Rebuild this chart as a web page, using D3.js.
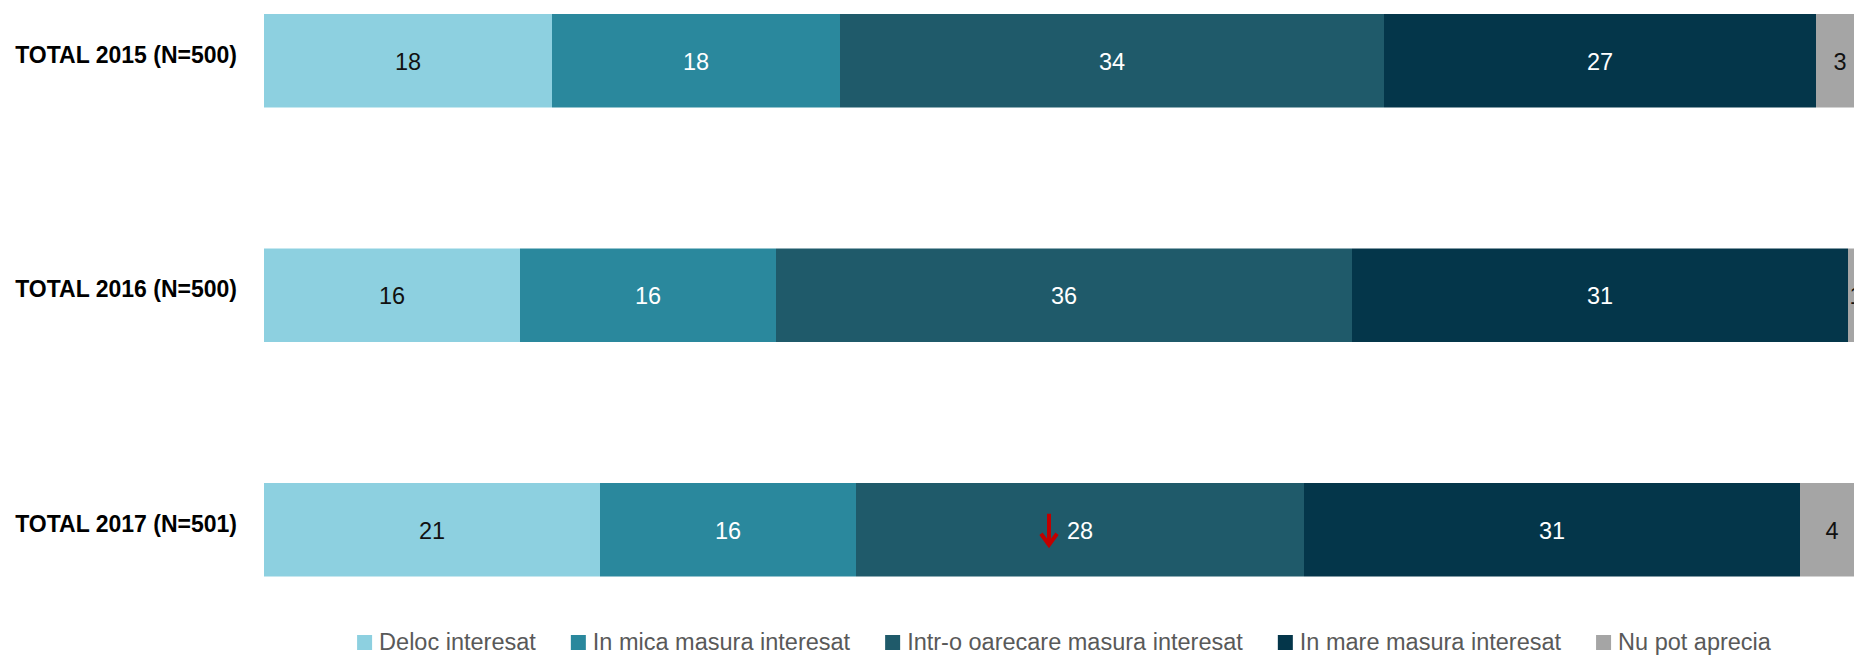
<!DOCTYPE html>
<html>
<head>
<meta charset="utf-8">
<script src="https://cdn.jsdelivr.net/npm/d3@7"></script>
<style>
  html, body { margin: 0; padding: 0; background: #ffffff; overflow: hidden; }
  svg { display: block; }
</style>
</head>
<body>
<svg id="chart" width="1854" height="655"></svg>
<script>
// ---- Data ----
const categories = ["TOTAL 2015 (N=500)", "TOTAL 2016 (N=500)", "TOTAL 2017 (N=501)"];
const seriesNames = ["Deloc interesat", "In mica masura interesat", "Intr-o oarecare masura interesat", "In mare masura interesat", "Nu pot aprecia"];
const delocInteresat   = [18, 16, 21];
const inMicaMasura     = [18, 16, 16];
const intrOOarecare    = [34, 36, 28];
const inMareMasura     = [27, 31, 31];
const nuPotAprecia     = [3, 1, 4];
const seriesColors = ["#8dd0e0", "#2a889d", "#1f5a6a", "#04364a", "#a5a5a5"];
const labelColors  = ["#111111", "#ffffff", "#ffffff", "#ffffff", "#111111"];
// significant decrease marker
const markers = [{ category: "TOTAL 2017 (N=501)", series: 2, direction: "down" }];

const seriesValues = [delocInteresat, inMicaMasura, intrOOarecare, inMareMasura, nuPotAprecia];

// ---- Layout ----
const svg = d3.select("#chart");
const FONT = "'Liberation Sans', Arial, sans-serif";

const x = d3.scaleLinear().domain([0, 100]).range([264, 1864]);
const y = d3.scaleBand().domain(categories).range([14, 576.5]).paddingInner(0.6013).paddingOuter(0);

const rows = categories.map((c, i) => {
  let cum = 0;
  return seriesValues.map((vals, s) => {
    const v = vals[i];
    const seg = { category: c, series: s, value: v, x0: cum, x1: cum + v };
    cum += v;
    return seg;
  });
});

const g = svg.append("g");

const rowG = g.selectAll("g.row").data(rows).join("g").attr("class", "row");

rowG.selectAll("rect").data(d => d).join("rect")
  .attr("x", d => x(d.x0))
  .attr("y", d => y(d.category))
  .attr("width", d => x(d.x1) - x(d.x0))
  .attr("height", y.bandwidth())
  .attr("fill", d => seriesColors[d.series]);

rowG.selectAll("text").data(d => d).join("text")
  .attr("x", d => (x(d.x0) + x(d.x1)) / 2)
  .attr("y", d => y(d.category) + y.bandwidth() / 2 + 1)
  .attr("dy", "0.35em")
  .attr("text-anchor", "middle")
  .attr("font-family", FONT)
  .attr("font-size", 23.5)
  .attr("fill", d => labelColors[d.series])
  .text(d => d.value);

// Category labels
g.selectAll("text.cat").data(categories).join("text")
  .attr("class", "cat")
  .attr("x", 237)
  .attr("y", d => y(d) + y.bandwidth() / 2 - 6)
  .attr("dy", "0.35em")
  .attr("text-anchor", "end")
  .attr("font-family", FONT)
  .attr("font-weight", "bold")
  .attr("font-size", 23)
  .attr("fill", "#000000")
  .text(d => d);

// Markers (arrows)
markers.forEach(m => {
  const i = categories.indexOf(m.category);
  const seg = rows[i][m.series];
  const cx = (x(seg.x0) + x(seg.x1)) / 2 - 31;
  const cy = y(m.category) + y.bandwidth() / 2;
  const top = cy - 16, bot = cy + 16;
  const ag = g.append("g").attr("stroke", "#c00000").attr("fill", "none").attr("stroke-width", 4);
  ag.append("line").attr("x1", cx).attr("x2", cx).attr("y1", top).attr("y2", bot - 2);
  ag.append("path").attr("d", `M${cx - 8},${bot - 12} L${cx},${bot - 1} L${cx + 8},${bot - 12}`)
    .attr("stroke-linejoin", "miter");
});

// Legend
const legend = svg.append("g");
const items = legend.selectAll("g").data(seriesNames).join("g");
items.append("rect")
  .attr("x", 0).attr("y", -15).attr("width", 15).attr("height", 15)
  .attr("fill", (d, i) => seriesColors[i]);
items.append("text")
  .attr("x", 22).attr("y", 0)
  .attr("font-family", FONT)
  .attr("font-size", 23.5)
  .attr("fill", "#595959")
  .text(d => d);
let pos = 0;
const offsets = [];
items.each(function() {
  const w = this.querySelector("text").getComputedTextLength();
  offsets.push(pos);
  pos += 22 + w + 35;
});
const totalW = pos - 35;
const startX = (264 + 1864) / 2 - totalW / 2;
items.attr("transform", (d, i) => `translate(${startX + offsets[i]},650)`);
</script>
</body>
</html>
